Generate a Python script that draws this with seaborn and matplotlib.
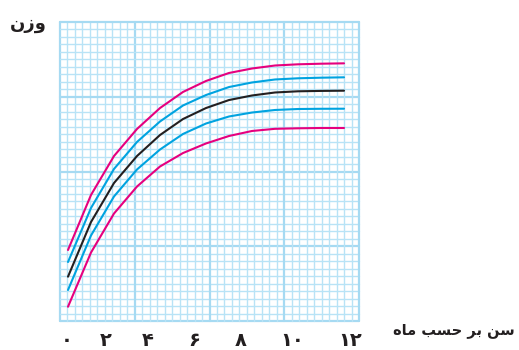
import numpy as np
import pandas as pd
import matplotlib
matplotlib.use("Agg")
import matplotlib.pyplot as plt
import seaborn as sns

# growth chart: weight vs age in months (weight axis has no units, read in grid cells)
months = list(range(13))
pink_top = [9.50, 16.86, 22.07, 25.69, 28.49, 30.64, 32.11, 33.18, 33.78, 34.18, 34.34, 34.42, 34.47]
blue_top = [7.89, 15.12, 20.34, 23.95, 26.69, 28.83, 30.23, 31.30, 31.91, 32.31, 32.47, 32.55, 32.60]
median = [5.93, 13.24, 18.46, 22.07, 24.88, 27.02, 28.49, 29.56, 30.17, 30.57, 30.73, 30.78, 30.81]
blue_bot = [4.15, 11.44, 16.66, 20.27, 22.94, 25.02, 26.42, 27.36, 27.89, 28.23, 28.36, 28.39, 28.40]
pink_bot = [1.91, 9.16, 14.38, 17.99, 20.67, 22.47, 23.75, 24.75, 25.42, 25.71, 25.78, 25.82, 25.82]

curve_names = ["pink_top", "blue_top", "median", "blue_bot", "pink_bot"]
curve_colors = ["#e6007e", "#00a3e0", "#231f20", "#00a3e0", "#e6007e"]

tick_labels = ["۰", "۲", "۴", "۶", "۸", "۱۰", "۱۲"]
# label positions as printed in the original (not evenly spaced)
tick_pos = [-0.04, 1.65, 3.48, 5.48, 7.52, 9.74, 12.26]

df = pd.DataFrame({
    "month": months * 5,
    "weight": pink_top + blue_top + median + blue_bot + pink_bot,
    "curve": sum([[n] * len(months) for n in curve_names], []),
})

sns.set_style("white")
plt.rcParams["font.family"] = ["DejaVu Sans"]

fig = plt.figure(figsize=(5.19, 3.5), dpi=100)
ax = fig.add_axes([60 / 519, 29 / 350, 299 / 519, 299 / 350])

# graph-paper grid, 40 x 40 cells, heavier line every 10 cells
for i in range(41):
    f = i / 40
    major = i % 10 == 0
    lw = 1.6 if major else 1.0
    col = "#a6daf2" if major else "#b8e3f6"
    ax.plot([f, f], [0, 1], transform=ax.transAxes, color=col, lw=lw, zorder=0, clip_on=False)
    ax.plot([0, 1], [f, f], transform=ax.transAxes, color=col, lw=lw, zorder=0, clip_on=False)

sns.lineplot(data=df, x="month", y="weight", hue="curve", hue_order=curve_names,
             palette=curve_colors, legend=False, linewidth=1.5, ax=ax, zorder=3)

ax.set_xlim(-8 / 23, 291 / 23)
ax.set_ylim(0, 40)
for s in ax.spines.values():
    s.set_visible(False)
ax.set_xlabel("")
ax.set_ylabel("")
ax.set_yticks([])
ax.set_xticks(tick_pos, tick_labels, fontsize=14, fontweight="bold", color="#231f20")
ax.tick_params(axis="x", length=0, pad=7)

# Persian labels written in visual order with presentation forms
fig.text(28 / 519, 1 - 24 / 350, "\u0646\u0632\u0648", fontsize=13, fontweight="bold",
         ha="center", va="center", color="#231f20")
fig.text(515 / 519, 1 - 330 / 350,
         "\uFEE9\uFE8E\uFEE3 \uFE90\uFEB4\uFEA3 \uFEAE\uFE91 \uFEE6\uFEB3",
         fontsize=10.5, fontweight="bold", ha="right", va="center", color="#231f20")

fig.savefig("out.png", dpi=100)
